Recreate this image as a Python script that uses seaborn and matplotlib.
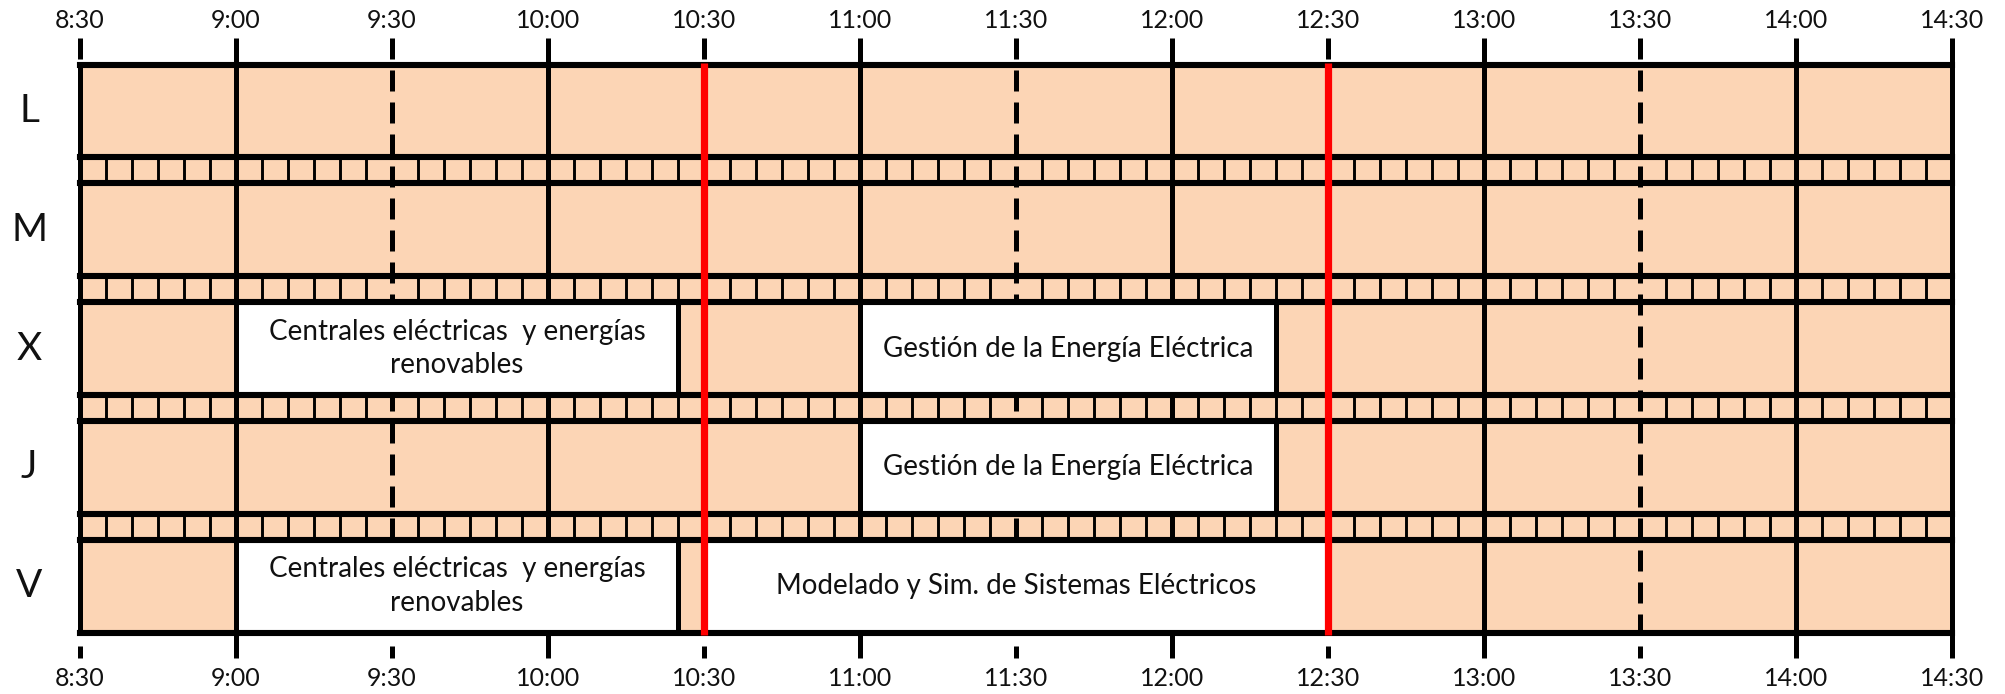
import matplotlib
matplotlib.use("Agg")
import matplotlib.pyplot as plt
import seaborn as sns
import pandas as pd

# ---------------- data ----------------
days = ["L", "M", "X", "J", "V"]
tick_labels = ["8:30", "9:00", "9:30", "10:00", "10:30", "11:00", "11:30",
               "12:00", "12:30", "13:00", "13:30", "14:00", "14:30"]
class_names = ["Centrales eléctricas  y energías\nrenovables",
               "Gestión de la Energía Eléctrica",
               "Gestión de la Energía Eléctrica",
               "Centrales eléctricas  y energías\nrenovables",
               "Modelado y Sim. de Sistemas Eléctricos"]
class_days = ["X", "X", "J", "V", "V"]
class_start = ["9:00", "11:00", "11:00", "9:00", "10:30"]
class_end = ["10:25", "12:20", "12:20", "10:25", "12:30"]
break_times = ["10:30", "12:30"]
cell_minutes = 5

# ---------------- style ----------------
sns.set_theme(style="white")
plt.rcParams["font.family"] = ["Lato", "DejaVu Sans"]

PEACH = "#FCD5B5"
W, H = 2005, 694
X0, PPM = 80, 5.2          # pixel of 8:30, pixels per minute
TOP, ROW_H, STRIP_H = 64.5, 92.8, 26.0
TICK_TOP, TICK_BOT = 38, 658


def to_min(t):
    h, m = map(int, t.split(":"))
    return h * 60 + m - 510


ticks = [to_min(t) for t in tick_labels]
start, end = ticks[0], ticks[-1]
row_top = [TOP + i * (ROW_H + STRIP_H) for i in range(len(days))]
bottom = row_top[-1] + ROW_H

fig = plt.figure(figsize=(W / 100, H / 100), dpi=100)
ax = fig.add_axes([0, 0, 1, 1])
ax.set_xlim(-X0 / PPM, (W - X0) / PPM)
ax.set_ylim(H, 0)
ax.axis("off")

# background
ax.barh(y=(TOP + bottom) / 2, width=end - start, left=start, height=bottom - TOP,
        color=PEACH, linewidth=0, zorder=1)

# 5-minute cells inside the strips
cell_x = [m for m in range(start + cell_minutes, end, cell_minutes) if m % 30 != 0]
for i in range(len(days) - 1):
    y0 = row_top[i] + ROW_H
    y1 = row_top[i + 1]
    ax.vlines(cell_x, y0, y1, color="black", lw=2.1, zorder=2)

# half-hour grid lines (solid on the hour, dashed on the half hour)
for t in ticks:
    solid = (t % 60 == 30) or t == end
    ax.plot([t, t], [TICK_TOP, TICK_BOT], color="black", lw=3.6,
            ls="-" if solid else (0, (4.2, 2.2)), zorder=3, solid_capstyle="butt")

# class boxes
df = pd.DataFrame({"name": class_names, "day": class_days,
                   "s": [to_min(t) for t in class_start],
                   "e": [to_min(t) for t in class_end]})
for _, r in df.iterrows():
    i = days.index(r["day"])
    yc = row_top[i] + ROW_H / 2
    ax.barh(y=yc, width=r["e"] - r["s"], left=r["s"], height=ROW_H,
            color="white", edgecolor="black", linewidth=3.6, zorder=4)
    ax.text((r["s"] + r["e"]) / 2, yc, r["name"], ha="center", va="center",
            fontsize=20, linespacing=1.35, color="#111111", zorder=7)

# frame edges
ax.plot([start, start], [TOP, bottom], color="black", lw=3.6, zorder=5)
ax.plot([end, end], [TOP, bottom], color="black", lw=3.6, zorder=5)

# horizontal borders
ys = []
for i in range(len(days)):
    ys += [row_top[i], row_top[i] + ROW_H]
for y in ys:
    ax.plot([start, end], [y, y], color="black", lw=4.4, zorder=5,
            solid_capstyle="projecting")

# break lines
for b in break_times:
    t = to_min(b)
    ax.plot([t, t], [TOP - 2, bottom + 2], color="#FF0000", lw=5.2, zorder=6,
            solid_capstyle="butt")

# labels
for t, lab in zip(ticks, tick_labels):
    ax.text(t, 20, lab, ha="center", va="center", fontsize=18, color="#111111")
    ax.text(t, 679, lab, ha="center", va="center", fontsize=18, color="#111111")
for i, d in enumerate(days):
    ax.text((29 - X0) / PPM, row_top[i] + ROW_H / 2, d, ha="center", va="center",
            fontsize=28, color="#111111")

fig.savefig("out.png", dpi=100)
